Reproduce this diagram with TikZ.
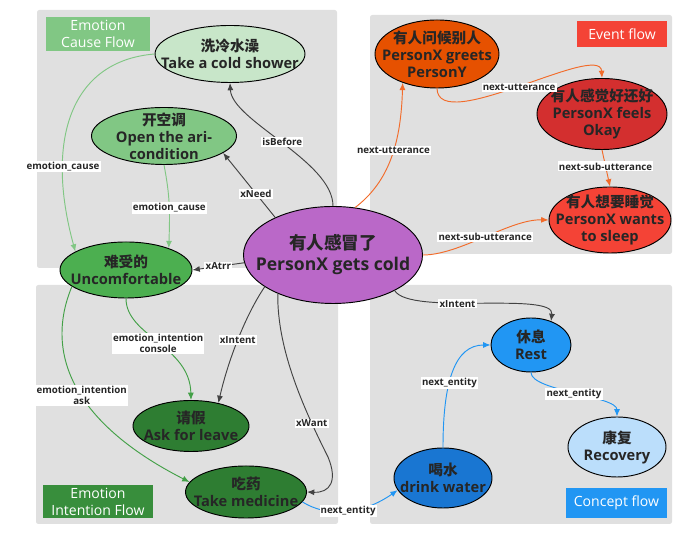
\documentclass[tikz,border=0pt]{standalone}
\usepackage{fontspec}
\setmainfont{Open Sans}
\newfontfamily\cjk{Noto Sans CJK SC}
\usetikzlibrary{arrows.meta, shapes.geometric}
\definecolor{panelgray}{HTML}{E0E0E0}
\definecolor{ink}{HTML}{262626}
\definecolor{darkedge}{HTML}{424242}
\definecolor{lgreen}{HTML}{81C784}
\definecolor{mgreen}{HTML}{43A047}
\definecolor{blueedge}{HTML}{2196F3}
\definecolor{orangeedge}{HTML}{F26B2A}
\definecolor{cshower}{HTML}{C8E6C9}
\definecolor{caircon}{HTML}{81C784}
\definecolor{cuncomf}{HTML}{4CAF50}
\definecolor{ccold}{HTML}{BA68C8}
\definecolor{cgreets}{HTML}{E65100}
\definecolor{cfeels}{HTML}{D32F2F}
\definecolor{csleep}{HTML}{F44336}
\definecolor{cdgreen}{HTML}{2E7D32}
\definecolor{crest}{HTML}{2196F3}
\definecolor{crecov}{HTML}{BBDEFB}
\definecolor{cwater}{HTML}{1976D2}
\definecolor{tagint}{HTML}{388E3C}

\begin{document}
\begin{tikzpicture}[x=0.03cm, y=0.03cm,
    panel/.style={fill=panelgray, rounded corners=2pt},
    tag/.style={rectangle, inner sep=0pt, text=white, align=center, font=\fontsize{12}{14.5}\selectfont},
    ev/.style={draw, ellipse, line width=0.8pt, inner sep=0pt},
    txt/.style={align=center, text=ink, font=\fontsize{12.5}{14.5}\selectfont\bfseries},
    lab/.style={fill=white, inner sep=1pt, text=ink, align=center, font=\fontsize{8.3}{9.5}\selectfont\bfseries},
    link/.style={line width=0.8pt, -{Latex[length=2.2mm,width=1.8mm]}},
]
\useasboundingbox (0,0) rectangle (686,541);

% four flow panels
\fill[panel] (37,273) rectangle (337,531);
\fill[panel] (370,287) rectangle (672,526);
\fill[panel] (36,17) rectangle (338,256);
\fill[panel] (370,17) rectangle (672,256);

\node[tag, fill=lgreen, minimum width=3.12cm, minimum height=1.02cm] (tcause) at (98,507) {Emotion\\Cause Flow};
\node[tag, fill=csleep, minimum width=2.7cm, minimum height=0.78cm] (tevent) at (622,507) {Event flow};
\node[tag, fill=tagint, minimum width=3.3cm, minimum height=0.99cm] (tintent) at (98,39.5) {Emotion\\Intention Flow};
\node[tag, fill=crest, minimum width=3.03cm, minimum height=0.9cm] (tconcept) at (616.5,38) {Concept flow};

% event nodes
\node[ev, fill=ccold, minimum width=5.37cm, minimum height=2.91cm,
    label={[txt, font=\fontsize{15}{18}\selectfont\bfseries]center:{{\cjk 有人感冒了}\\PersonX gets cold}}] (cold) at (333,286) {};
\node[ev, fill=cshower, minimum width=4.5cm, minimum height=1.71cm,
    label={[txt]center:{{\cjk 洗冷水澡}\\Take a cold shower}}] (shower) at (230,487) {};
\node[ev, fill=caircon, minimum width=4.35cm, minimum height=1.71cm,
    label={[txt]center:{{\cjk 开空调}\\Open the ari-\\condition}}] (aircon) at (164,405) {};
\node[ev, fill=cuncomf, minimum width=3.96cm, minimum height=1.68cm,
    label={[txt]center:{{\cjk 难受的}\\Uncomfortable}}] (uncomf) at (126,271) {};
\node[ev, fill=cgreets, minimum width=3.72cm, minimum height=2.04cm,
    label={[txt]center:{{\cjk 有人问候别人}\\PersonX greets\\PersonY}}] (greets) at (437,487) {};
\node[ev, fill=cfeels, minimum width=3.9cm, minimum height=2.13cm,
    label={[txt]center:{{\cjk 有人感觉好还好}\\PersonX feels\\Okay}}] (feels) at (602,427) {};
\node[ev, fill=csleep, minimum width=3.66cm, minimum height=1.98cm,
    label={[txt]center:{{\cjk 有人想要睡觉}\\PersonX wants\\to sleep}}] (sleep) at (610,321) {};
\node[ev, fill=cdgreen, minimum width=3.48cm, minimum height=1.53cm,
    label={[txt]center:{{\cjk 请假}\\Ask for leave}}] (leave) at (191,115) {};
\node[ev, fill=cdgreen, minimum width=3.63cm, minimum height=1.56cm,
    label={[txt]center:{{\cjk 吃药}\\Take medicine}}] (medicine) at (246,49) {};
\node[ev, fill=crest, minimum width=2.4cm, minimum height=1.62cm,
    label={[txt]center:{{\cjk 休息}\\Rest}}] (rest) at (531,196) {};
\node[ev, fill=crecov, minimum width=2.94cm, minimum height=1.8cm,
    label={[txt]center:{{\cjk 康复}\\Recovery}}] (recovery) at (617,94) {};
\node[ev, fill=cwater, minimum width=2.94cm, minimum height=1.8cm,
    label={[txt]center:{{\cjk 喝水}\\drink water}}] (water) at (443,63) {};

% relations of the cold event
\draw[link, darkedge] (cold.north) .. controls (333,380) and (232,420) .. (shower.south) node[lab, pos=0.5] {isBefore};
\draw[link, darkedge] (cold.147) -- (aircon.-16) node[lab, pos=0.37] {xNeed};
\draw[link, darkedge] (cold.185) -- (uncomf.east) node[lab, pos=0.5] {xAtrr};
\draw[link, darkedge] (cold.205) .. controls (245,225) and (228,180) .. (leave.40) node[lab, pos=0.5] {xIntent};
\draw[link, darkedge] (cold.215) .. controls (277,190) and (305,130) .. (328,84) node[lab, pos=0.77] {xWant}
    .. controls (338,60) and (330,48) .. (medicine.east);
\draw[link, darkedge] (cold.-30) .. controls (410,225) and (555,250) .. (rest.50) node[lab, pos=0.4] {xIntent};

% emotion flows
\draw[link, lgreen] (shower.west) .. controls (70,480) and (45,400) .. (uncomf.160) node[lab, pos=0.72] {emotion\_cause};
\draw[link, lgreen] (aircon.south) .. controls (170,345) and (170,330) .. (uncomf.27) node[lab, pos=0.55] {emotion\_cause};
\draw[link, mgreen] (uncomf.south) .. controls (126,205) and (190,195) .. (leave.north) node[lab, pos=0.5] {emotion\_intention\\console};
\draw[link, mgreen] (uncomf.197) .. controls (45,190) and (70,120) .. (medicine.170) node[lab, pos=0.55] {emotion\_intention\\ask};

% concept flow
\draw[link, blueedge] (medicine.-10) .. controls (330,22) and (365,28) .. (water.195) node[lab, pos=0.5] {next\_entity};
\draw[link, blueedge] (water.north) .. controls (443,160) and (455,196) .. (rest.west) node[lab, pos=0.4] {next\_entity};
\draw[link, blueedge] (rest.south) .. controls (531,150) and (617,145) .. (recovery.north) node[lab, pos=0.5] {next\_entity};

% event flow
\draw[link, orangeedge] (cold.65) .. controls (390,360) and (401,400) .. (greets.220) node[lab, pos=0.55] {next-utterance};
\draw[link, orangeedge] (greets.south) .. controls (438,405) and (600,500) .. (feels.north) node[lab, pos=0.5] {next-utterance};
\draw[link, orangeedge] (feels.south) -- (sleep.north) node[lab, pos=0.45] {next-sub-utterance};
\draw[link, orangeedge] (cold.east) .. controls (460,286) and (510,322) .. (sleep.west) node[lab, pos=0.5] {next-sub-utterance};
\end{tikzpicture}
\end{document}
